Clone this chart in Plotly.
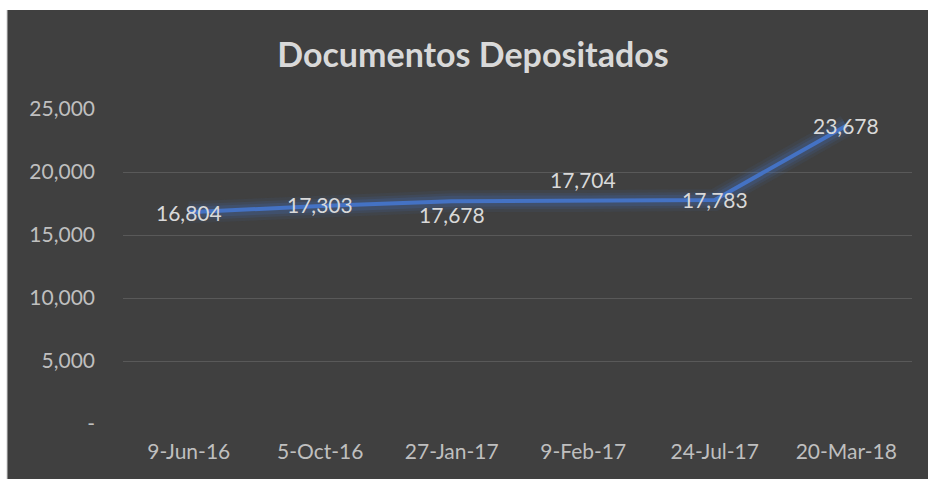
import plotly.graph_objects as go

categories = ["9-Jun-16", "5-Oct-16", "27-Jan-17", "9-Feb-17", "24-Jul-17", "20-Mar-18"]
values = [16804, 17303, 17678, 17704, 17783, 23678]
label_yshift = [0, 1, -13, 21, 0, 0]
y_tickvals = [0, 5000, 10000, 15000, 20000, 25000]
y_ticktext = ["-", "5,000", "10,000", "15,000", "20,000", "25,000"]

W, H = 928, 479
L, R, T, B = 123, 16, 109, 55
pw, ph = W - L - R, H - T - B

def px_x(p):
    return (p - L) / pw

def px_y(p):
    return (H - B - p) / ph

fig = go.Figure()
# glow
for w, a in [(22, 0.08), (16, 0.12), (11, 0.18)]:
    fig.add_trace(go.Scatter(x=categories, y=values, mode="lines",
                             line=dict(color=f"rgba(68,114,196,{a})", width=w),
                             hoverinfo="skip", showlegend=False))
fig.add_trace(go.Scatter(
    x=categories, y=values, mode="lines",
    line=dict(color="#4472C4", width=4),
    showlegend=False, cliponaxis=False))

annotations = [
    dict(x=c, y=v, xref="x", yref="y", text=f"{v:,}", showarrow=False,
         yshift=s, font=dict(color="#D9D9D9", size=21, family="Lato"))
    for c, v, s in zip(categories, values, label_yshift)
]

fig.update_layout(
    width=W, height=H,
    margin=dict(l=L, r=R, t=T, b=B),
    paper_bgcolor="#404040", plot_bgcolor="#404040",
    title=dict(text="<b>Documentos Depositados</b>", x=(473) / W, xanchor="center",
               y=1 - 55 / H, yanchor="middle",
               font=dict(family="Lato", size=34, color="#D9D9D9")),
    font=dict(family="Lato", color="#BFBFBF", size=21),
    annotations=annotations,
    xaxis=dict(range=[-0.5, 5.5], showgrid=False, showline=False, zeroline=False, ticks="",
               tickfont=dict(size=21, color="#BFBFBF"), ticklabelstandoff=13),
    yaxis=dict(range=[0, 25000], tickvals=y_tickvals, ticktext=y_ticktext,
               showgrid=True, gridcolor="#595959", gridwidth=1,
               zeroline=False, showline=False, ticks="",
               tickfont=dict(size=21, color="#BFBFBF"), ticklabelstandoff=27),
    shapes=[
        dict(type="rect", xref="paper", yref="paper", x0=px_x(0), x1=px_x(7), y0=px_y(H), y1=px_y(0),
             fillcolor="white", line=dict(width=0), layer="above"),
        dict(type="rect", xref="paper", yref="paper", x0=px_x(0), x1=px_x(W), y0=px_y(10), y1=px_y(0),
             fillcolor="white", line=dict(width=0), layer="above"),
        dict(type="line", xref="paper", yref="paper", x0=px_x(7), x1=px_x(7), y0=px_y(H), y1=px_y(10),
             line=dict(color="#D0D0D0", width=1), layer="above"),
    ],
)

fig.write_html("out.html")
